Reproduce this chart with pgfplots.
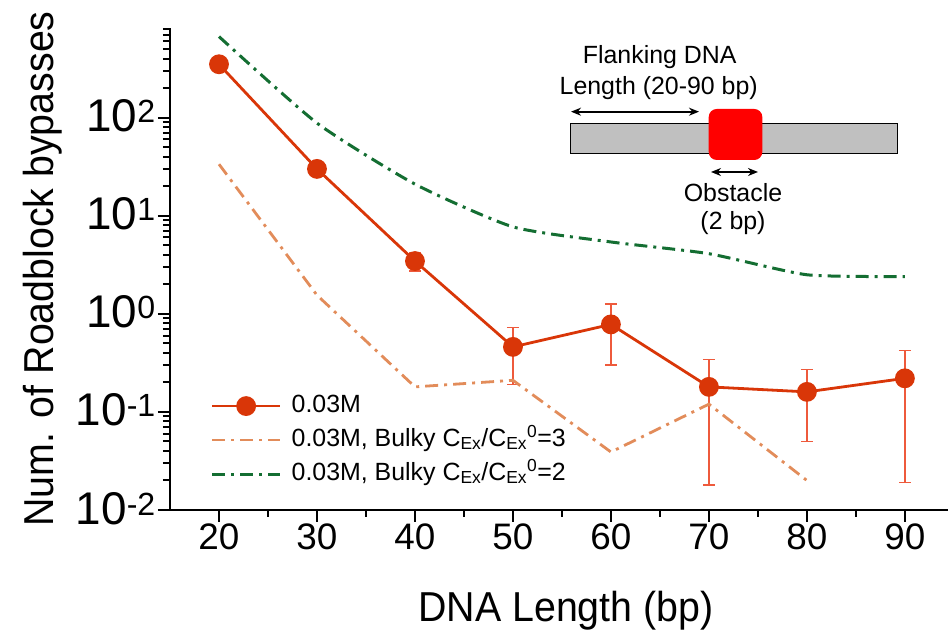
\documentclass[border=0pt]{standalone}
\usepackage{fontspec}
\setmainfont{Liberation Sans}
\newfontfamily\labelfont{Liberation Sans}[FakeStretch=0.94]
\usepackage{pgfplots}
\pgfplotsset{compat=1.18}
\usetikzlibrary{arrows.meta}

\definecolor{mainred}{RGB}{217,54,8}
\definecolor{barred}{RGB}{238,90,60}
\definecolor{bulkyorange}{RGB}{226,140,90}
\definecolor{bulkygreen}{RGB}{20,110,50}
\definecolor{dnagray}{RGB}{192,192,192}

\begin{document}
\begin{tikzpicture}
\begin{axis}[
  scale only axis, width=778bp, height=482bp,
  xmin=15, xmax=94.4,
  ymode=log, ymin=0.01, ymax=820,
  axis lines=left, axis line style={-, line width=2.2bp},
  tick align=outside, tick style={line width=2bp, black},
  major tick length=12bp, minor tick length=7bp,
  xtick={20,30,...,90}, minor x tick num=1,
  ytick={0.01,0.1,1,10,100},
  yticklabels={{10\textsuperscript{-2}},{10\textsuperscript{-1}},{10\textsuperscript{0}},{10\textsuperscript{1}},{10\textsuperscript{2}}},
  minor ytick={0.02,0.03,0.04,0.05,0.06,0.07,0.08,0.09,
               0.2,0.3,0.4,0.5,0.6,0.7,0.8,0.9,
               2,3,4,5,6,7,8,9,20,30,40,50,60,70,80,90,
               200,300,400,500,600,700,800},
  /pgf/number format/assume math mode=true,
  xticklabel style={font=\fontsize{37}{37}\selectfont, inner sep=2bp},
  yticklabel style={font=\fontsize{46}{46}\selectfont, inner sep=2bp, anchor=base east, yshift=-14bp},
  xlabel={DNA Length (bp)},
  xlabel style={font=\labelfont\fontsize{42}{42}\selectfont, at={(axis description cs:0.319,-0.2317)}, anchor=base west, inner sep=0pt},
  ylabel={Num. of Roadblock bypasses},
  ylabel style={font=\labelfont\fontsize{42}{42}\selectfont, at={(axis description cs:-0.15,0.5)}, anchor=base, inner sep=0pt},
  legend cell align=left,
  legend image code/.code={\draw[mark repeat=2,mark phase=2,#1] plot coordinates {(0bp,0bp) (34bp,0bp) (68bp,0bp)};},
  legend style={at={(rel axis cs:0.052,0.243)}, anchor=north west, draw=none, fill=none,
    font=\fontsize{25}{25}\selectfont, row sep=8bp, inner sep=0pt,
    nodes={inner sep=1bp, text height=18bp, text depth=6bp},
    /tikz/every odd column/.style={column sep=9bp}},
]
% measured bypass counts with standard deviation
\addplot[color=mainred, line width=2.8bp, mark=*, mark size=8.5bp,
  mark options={solid, fill=mainred, draw=mainred},
  error bars/.cd, y dir=both, y explicit,
  error bar style={line width=1.4bp, barred},
  error mark options={rotate=90, mark size=6bp, line width=1.4bp, barred}]
  table[x=x, y=y, y error=e] {
  x  y     e
  20 350   0
  30 30    0
  40 3.45  0.72
  50 0.46  0.27
  60 0.78  0.48
  70 0.18  0.162
  80 0.16  0.11
  90 0.22  0.201
};
\addlegendentry{0.03M}
% bulky obstacle, ratio 3
\addplot[color=bulkyorange, line width=2.8bp,
  dash pattern=on 13bp off 6bp on 3bp off 6bp]
  table {
  20 33.5
  30 1.55
  40 0.18
  50 0.21
  60 0.039
  70 0.12
  80 0.02
};
\addlegendentry{0.03M, Bulky C\textsubscript{Ex}/C\textsubscript{Ex}\textsuperscript{0}=3}
% bulky obstacle, ratio 2
\addplot[color=bulkygreen, line width=3bp, smooth, tension=0.35,
  dash pattern=on 13bp off 6bp on 3bp off 6bp]
  table {
  20 670
  30 88
  40 21
  50 7.7
  60 5.4
  70 4.1
  80 2.5
  90 2.4
};
\addlegendentry{0.03M, Bulky C\textsubscript{Ex}/C\textsubscript{Ex}\textsuperscript{0}=2}
\end{axis}

% schematic of the DNA construct with the obstacle
\begin{scope}[shift={(current axis.south west)}, x=1bp, y=1bp]
  \filldraw[fill=dnagray, draw=black, line width=1bp] (400.7,356.7) rectangle (727.3,386.7);
  \fill[red, rounded corners=8bp] (538.7,350) rectangle (592.3,401);
  \draw[{Stealth[length=10bp,width=8bp]}-{Stealth[length=10bp,width=8bp]}, line width=1.8bp] (401,398.3) -- (529,398.3);
  \draw[{Stealth[length=10bp,width=8bp]}-{Stealth[length=10bp,width=8bp]}, line width=1.8bp] (541,338) -- (588,338);
  \node[font=\fontsize{25}{25}\selectfont, anchor=base, inner sep=0pt] at (489.7,446.7) {Flanking DNA};
  \node[font=\fontsize{25}{25}\selectfont, anchor=base, inner sep=0pt] at (488.7,415) {Length (20-90 bp)};
  \node[font=\fontsize{25}{25}\selectfont, anchor=base, inner sep=0pt] at (563,308.3) {Obstacle};
  \node[font=\fontsize{25}{25}\selectfont, anchor=base, inner sep=0pt] at (563,280) {(2 bp)};
  \pgfresetboundingbox
  \useasboundingbox (-170,-120) rectangle (778,510);
\end{scope}
\end{tikzpicture}
\end{document}
